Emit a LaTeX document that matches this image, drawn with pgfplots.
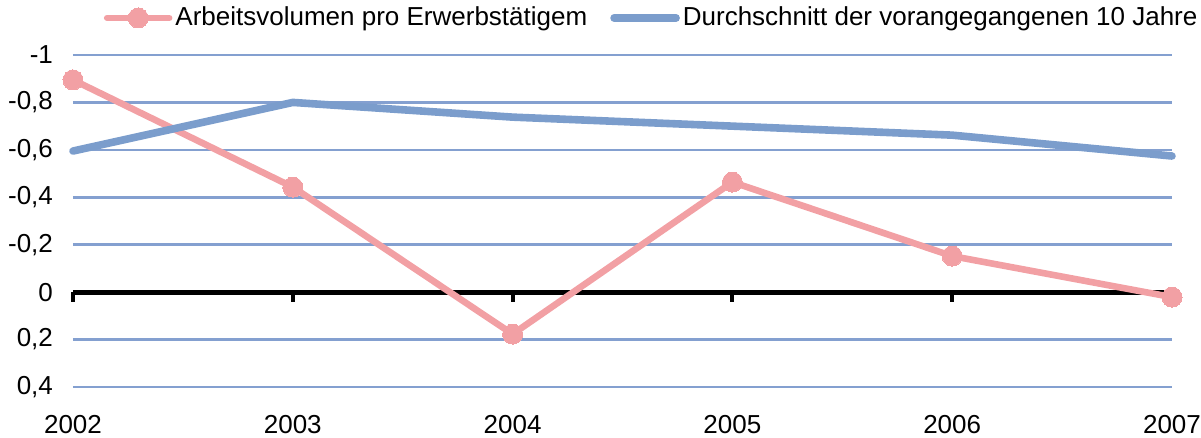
\documentclass[border=0pt]{standalone}
\usepackage{pgfplots}
\pgfplotsset{compat=1.18}
\usepackage{fontspec}
\setmainfont{Liberation Sans}
\definecolor{pinkline}{RGB}{242,160,164}
\definecolor{blueline}{RGB}{123,157,204}
\definecolor{gridblue}{RGB}{132,160,208}
\begin{document}
\fontsize{13pt}{15pt}\selectfont
\begin{tikzpicture}
\begin{axis}[
  scale only axis,
  width=549.5pt, height=166pt,
  xmin=0, xmax=5,
  ymin=-1, ymax=0.4,
  y dir=reverse,
  clip=false,
  axis line style={draw=none},
  xtick={0,1,2,3,4,5},
  xticklabels={2002,2003,2004,2005,2006,2007},
  ytick={-1,-0.8,-0.6,-0.4,-0.2,0,0.2,0.4},
  yticklabels={{-1},{-0,8},{-0,6},{-0,4},{-0,2},{0},{0,2},{0,4}},
  major tick length=0pt,
  ymajorgrids,
  grid style={gridblue, line width=1.3pt},
  xticklabel style={yshift=-9.5pt, font=\fontsize{13pt}{15pt}\selectfont},
  yticklabel style={xshift=-5.5pt, font=\fontsize{13pt}{15pt}\selectfont},
  legend columns=2,
  legend cell align=left,
  legend style={draw=none, fill=none, at={(0.527,1)}, anchor=center, yshift=18.5pt,
    inner xsep=0pt, inner ysep=0pt,
    nodes={inner xsep=1.5pt},
    font=\fontsize{13pt}{15pt}\selectfont,
    /tikz/every even column/.append style={column sep=10pt}},
  legend image code/.code={
    \draw[#1, line cap=round, mark=none] (0pt,0pt) -- (31pt,0pt);
    \draw[#1, only marks] plot coordinates {(15.5pt,0pt)};
  },
]
% zero axis line with ticks
\draw[black, line width=2.5pt] (axis cs:0,0) -- (axis cs:5,0);
\pgfplotsinvokeforeach{0,1,2,3,4,5}{
  \draw[black, line width=2pt] (axis cs:#1,0) -- ++(0pt,-5pt);
}
\addplot[pinkline, line width=3.3pt, line cap=round, mark=*, mark size=5pt, mark options={fill=pinkline, draw=pinkline, line width=0pt}]
  coordinates {(0,-0.895) (1,-0.443) (2,0.177) (3,-0.464) (4,-0.152) (5,0.021)};
\addlegendentry{Arbeitsvolumen pro Erwerbstätigem}
\addplot[blueline, line width=3.8pt, line cap=round, line join=round, mark=none]
  coordinates {(0,-0.595) (1,-0.80) (2,-0.738) (3,-0.70) (4,-0.662) (5,-0.574)};
\addlegendentry{Durchschnitt der vorangegangenen 10 Jahre}
\coordinate (bl) at (axis cs:0,0.4);
\coordinate (tr) at (axis cs:5,-1);
\end{axis}
\pgfresetboundingbox
\path ([shift={(-36.5pt,-25.5pt)}]bl) rectangle ([shift={(14.5pt,27.5pt)}]tr);
\end{tikzpicture}
\end{document}
